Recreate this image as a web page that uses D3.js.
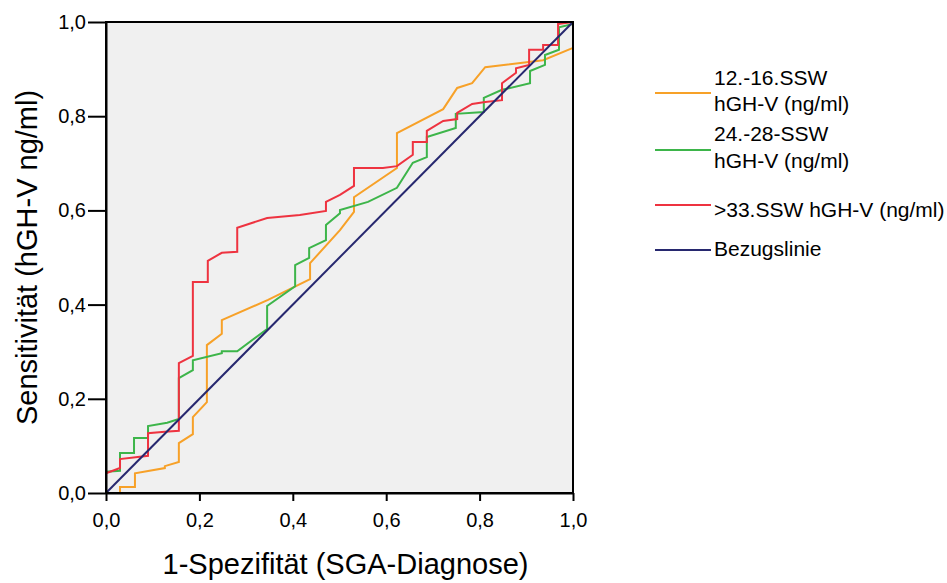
<!DOCTYPE html>
<html>
<head>
<meta charset="utf-8">
<script src="https://cdn.jsdelivr.net/npm/d3@7"></script>
<style>
  html, body { margin: 0; padding: 0; background: #ffffff; }
  svg { display: block; font-family: Arial, "Liberation Sans", sans-serif; }
</style>
</head>
<body>
<svg id="chart" width="947" height="583"></svg>
<script>
// ---- Data ----
const tickValues = [0, 0.2, 0.4, 0.6, 0.8, 1.0];
const tickLabels = ["0,0", "0,2", "0,4", "0,6", "0,8", "1,0"];

const seriesNames = ["12.-16.SSW\nhGH-V (ng/ml)", "24.-28-SSW\nhGH-V (ng/ml)", ">33.SSW hGH-V (ng/ml)", "Bezugslinie"];
const seriesColors = ["#f7a128", "#3db54a", "#ee3340", "#27286f"];

const orangeFpr = [0, 0.030, 0.030, 0.062, 0.062, 0.126, 0.126, 0.156, 0.156, 0.186, 0.186, 0.216, 0.216, 0.248, 0.248, 0.347, 0.437, 0.437, 0.501, 0.531, 0.531, 0.623, 0.623, 0.722, 0.752, 0.784, 0.812, 0.936, 1.0, 1.0];
const orangeTpr = [0, 0, 0.013, 0.013, 0.042, 0.053, 0.057, 0.066, 0.106, 0.125, 0.161, 0.193, 0.314, 0.338, 0.367, 0.410, 0.454, 0.488, 0.558, 0.597, 0.628, 0.690, 0.764, 0.815, 0.860, 0.870, 0.904, 0.919, 0.945, 1.0];

const greenFpr = [0, 0, 0.030, 0.030, 0.060, 0.060, 0.090, 0.090, 0.131, 0.156, 0.156, 0.186, 0.186, 0.248, 0.248, 0.281, 0.345, 0.345, 0.405, 0.405, 0.435, 0.435, 0.471, 0.471, 0.501, 0.501, 0.561, 0.623, 0.657, 0.687, 0.687, 0.749, 0.749, 0.809, 0.809, 0.848, 0.908, 0.908, 0.940, 0.940, 0.970, 0.970, 1.0, 1.0];
const greenTpr = [0, 0.045, 0.047, 0.085, 0.085, 0.117, 0.117, 0.142, 0.149, 0.157, 0.244, 0.261, 0.282, 0.297, 0.301, 0.301, 0.348, 0.397, 0.439, 0.484, 0.499, 0.520, 0.537, 0.569, 0.594, 0.601, 0.618, 0.648, 0.701, 0.713, 0.756, 0.775, 0.805, 0.809, 0.839, 0.856, 0.870, 0.896, 0.909, 0.930, 0.941, 0.989, 0.996, 1.0];

const redFpr = [0, 0, 0.030, 0.030, 0.090, 0.090, 0.126, 0.156, 0.156, 0.186, 0.186, 0.218, 0.218, 0.248, 0.281, 0.281, 0.345, 0.415, 0.471, 0.471, 0.501, 0.531, 0.531, 0.593, 0.623, 0.657, 0.657, 0.687, 0.687, 0.722, 0.752, 0.752, 0.784, 0.812, 0.848, 0.848, 0.878, 0.878, 0.906, 0.906, 0.936, 0.936, 0.968, 0.968, 1.0];
const redTpr = [0, 0.042, 0.053, 0.072, 0.079, 0.127, 0.130, 0.132, 0.276, 0.291, 0.448, 0.448, 0.493, 0.510, 0.512, 0.563, 0.584, 0.590, 0.599, 0.618, 0.633, 0.652, 0.690, 0.690, 0.694, 0.718, 0.745, 0.745, 0.769, 0.790, 0.794, 0.807, 0.826, 0.830, 0.834, 0.870, 0.892, 0.902, 0.909, 0.941, 0.941, 0.951, 0.951, 0.996, 1.0];

const refFpr = [0, 1];
const refTpr = [0, 1];

// ---- Layout ----
const svg = d3.select("#chart");
const mLeft = 106, mRight = 573, mTop = 22, mBottom = 493;

const x = d3.scaleLinear().domain([0, 1]).range([mLeft, mRight]);
const y = d3.scaleLinear().domain([0, 1]).range([mBottom, mTop]);
const fmt = v => tickLabels[tickValues.findIndex(t => Math.abs(t - v) < 1e-9)];

// plot background
svg.append("rect")
  .attr("x", mLeft).attr("y", mTop)
  .attr("width", mRight - mLeft).attr("height", mBottom - mTop)
  .attr("fill", "#f0f0f0");

// series
const toPts = (xs, ys) => xs.map((v, i) => [v, ys[i]]);
const series = [
  toPts(orangeFpr, orangeTpr),
  toPts(greenFpr, greenTpr),
  toPts(redFpr, redTpr),
  toPts(refFpr, refTpr)
];
const line = d3.line().x(d => x(d[0])).y(d => y(d[1]));
series.forEach((pts, i) => {
  svg.append("path")
    .datum(pts)
    .attr("d", line)
    .attr("fill", "none")
    .attr("stroke", seriesColors[i])
    .attr("stroke-width", 2)
    .attr("stroke-linejoin", "miter");
});

// frame
svg.append("rect")
  .attr("x", mLeft).attr("y", mTop)
  .attr("width", mRight - mLeft).attr("height", mBottom - mTop)
  .attr("fill", "none").attr("stroke", "#000").attr("stroke-width", 2);

// axes
const xAxis = d3.axisBottom(x).tickValues(tickValues).tickFormat(fmt).tickSize(8).tickSizeOuter(0).tickPadding(12);
const yAxis = d3.axisLeft(y).tickValues(tickValues).tickFormat(fmt).tickSize(18).tickSizeOuter(0).tickPadding(2);

const gx = svg.append("g").attr("transform", `translate(0,${mBottom})`).call(xAxis);
const gy = svg.append("g").attr("transform", `translate(${mLeft},0)`).call(yAxis);
[gx, gy].forEach(g => {
  g.select(".domain").attr("stroke", "#000").attr("stroke-width", 2);
  g.selectAll(".tick line").attr("stroke", "#000").attr("stroke-width", 2);
  g.selectAll(".tick text").attr("fill", "#000").attr("font-size", 20)
    .attr("font-family", "Arial, 'Liberation Sans', sans-serif");
});

// axis titles
svg.append("text")
  .attr("x", (mLeft + mRight) / 2 + 6).attr("y", 574)
  .attr("text-anchor", "middle")
  .attr("font-size", 29).attr("fill", "#000")
  .text("1-Spezifität (SGA-Diagnose)");

svg.append("text")
  .attr("transform", `translate(37,${(mTop + mBottom) / 2}) rotate(-90)`)
  .attr("text-anchor", "middle")
  .attr("font-size", 29).attr("fill", "#000")
  .text("Sensitivität (hGH-V ng/ml)");

// legend
const legendLineY = [93, 150, 205, 250];
const legendTextY = [[85, 111], [141, 168], [217], [256]];
seriesNames.forEach((name, i) => {
  svg.append("line")
    .attr("x1", 655).attr("x2", 711)
    .attr("y1", legendLineY[i]).attr("y2", legendLineY[i])
    .attr("stroke", seriesColors[i]).attr("stroke-width", 2);
  name.split("\n").forEach((part, j) => {
    svg.append("text")
      .attr("x", 714).attr("y", legendTextY[i][j])
      .attr("font-size", 21).attr("fill", "#000")
      .text(part);
  });
});
</script>
</body>
</html>
